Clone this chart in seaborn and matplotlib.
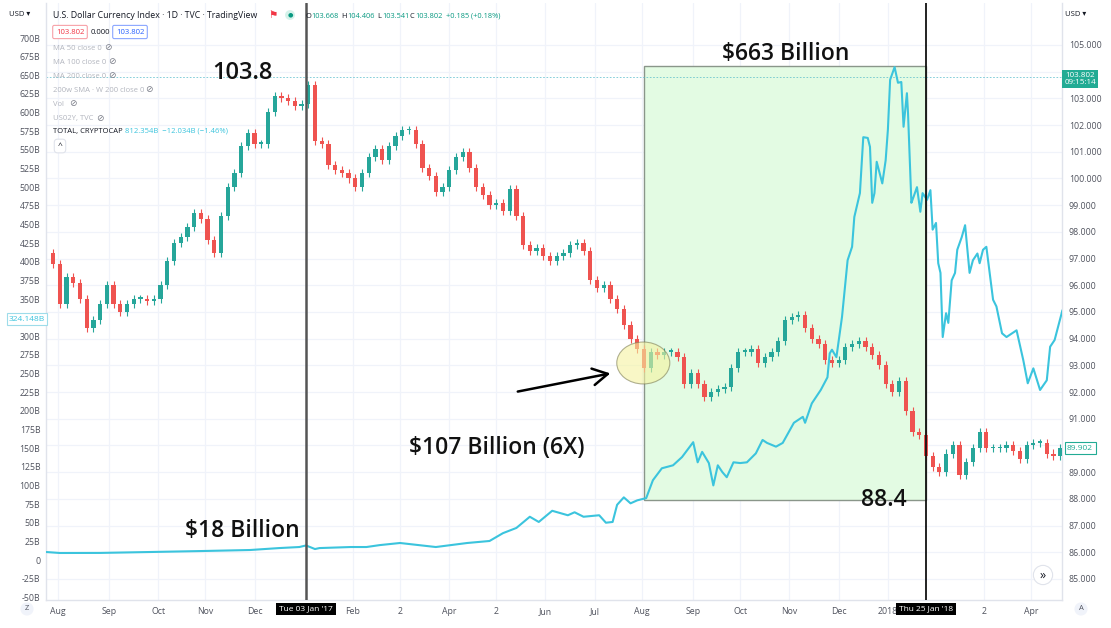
import numpy as np
import pandas as pd
import matplotlib
matplotlib.use("Agg")
import matplotlib.pyplot as plt
import seaborn as sns
from matplotlib.patches import Rectangle, Ellipse

# ---------------- data ----------------
start_date = "2016-07-27"
end_date = "2018-04-19"
candle_days = 3            # trading days represented by one candle
dxy_first_open = 97.2
dxy_close = [
    96.8, 95.3, 96.3, 96.1, 95.5, 94.4, 94.7, 95.3, 96.0, 95.3,
    95.0, 95.3, 95.5, 95.5, 95.4, 95.5, 96.0, 96.9, 97.6, 97.8,
    98.2, 98.7, 98.5, 97.7, 97.2, 98.6, 99.7, 100.2, 101.2, 101.7,
    101.3, 101.3, 102.5, 103.1, 103.0, 102.9, 102.7, 102.8, 103.5, 101.4,
    101.3, 100.5, 100.3, 100.2, 100.0, 99.7, 100.2, 100.8, 101.1, 100.7,
    101.2, 101.6, 101.8, 101.8, 101.3, 100.4, 100.1, 99.5, 99.7, 100.3,
    100.8, 101.0, 100.4, 99.7, 99.4, 99.0, 99.1, 98.8, 99.6, 98.6,
    97.5, 97.3, 97.4, 97.1, 96.9, 97.1, 97.2, 97.5, 97.6, 97.3,
    96.2, 95.9, 96.0, 95.5, 95.1, 94.5, 94.0, 93.6, 92.9, 93.5,
    93.4, 93.5, 93.5, 93.3, 92.3, 92.7, 92.3, 91.8, 92.0, 92.1,
    92.2, 92.9, 93.5, 93.5, 93.6, 93.1, 93.3, 93.5, 93.9, 94.7,
    94.8, 94.9, 94.4, 94.0, 93.8, 93.2, 93.1, 93.2, 93.7, 93.8,
    93.9, 93.7, 93.4, 93.0, 92.3, 92.0, 92.4, 91.3, 90.5, 90.4,
    89.6, 89.2, 89.0, 89.7, 90.0, 88.9, 89.4, 89.9, 90.5, 89.9,
    89.9, 89.9, 90.0, 89.8, 89.5, 90.0, 90.1, 90.1, 89.7, 89.6,
    89.9,
]

# total crypto market cap (billions), x = trading days since start_date
crypto_day = [
    -2, 4, 22, 44, 67, 89, 102, 111, 114, 118,
    120, 134, 141, 147, 156, 172, 186, 196, 202, 208,
    214, 218, 224, 231, 234, 238, 245, 248, 251, 253,
    256, 259, 262, 266, 269, 273, 278, 282, 287, 289,
    291, 294, 296, 298, 300, 302, 305, 308, 311, 315,
    318, 320, 324, 327, 332, 336, 337, 340, 344, 347,
    348, 349, 351, 353.5, 356, 358, 359, 361.5, 363, 365,
    366, 367, 368, 369, 371.5, 373, 374, 375, 377, 378.5,
    380, 381, 382.5, 383, 384.5, 385, 387, 388.5, 389.5, 391.5,
    393, 394, 395.5, 396.5, 397.5, 398.5, 400, 401, 402.5, 404,
    405, 407, 408.5, 410.5, 412, 414, 415, 416.5, 418, 421,
    422.5, 425, 427, 431.5, 434.5, 436.5, 439, 442, 445, 446.5,
    448.5, 452,
]
crypto_bn = [
    10.7, 9.4, 9.5, 10.7, 12, 13.4, 16, 17.4, 19.5, 14.7,
    16, 17.4, 17.4, 20, 22.8, 17.4, 22.8, 25.5, 36, 43,
    58, 51, 66, 60, 64, 58, 60, 50, 51, 74,
    84, 76, 80, 83, 107, 123, 127, 138, 158, 131,
    145, 130, 100, 127, 118, 111, 131, 130, 131, 143,
    161, 157, 152, 157, 184, 192, 184, 210, 228, 245,
    277, 282, 272, 326, 402, 420, 460, 492, 567, 566,
    554, 479, 492, 534, 505, 536, 577, 644, 661, 640,
    641, 581, 626, 599, 479, 483, 500, 467, 492, 483,
    496, 443, 452, 398, 385, 299, 331, 318, 375, 385,
    416, 433, 449, 385, 402, 411, 398, 416, 420, 349,
    340, 304, 299, 308, 268, 237, 257, 228, 241, 286,
    295, 335,
]

left_ticks = list(range(-50, 701, 25))
left_hidden = [325]             # label covered by the last-value box
right_ticks = list(range(85, 106))
right_hidden = [90, 104]        # labels covered by the price boxes
month_dates = ["2016-08-01", "2016-09-01", "2016-10-03", "2016-11-01", "2016-12-01",
               "2017-02-01", "2017-03-02", "2017-04-03", "2017-05-02", "2017-06-01",
               "2017-07-03", "2017-08-01", "2017-09-01", "2017-10-02", "2017-11-01",
               "2017-12-01", "2018-01-02", "2018-03-02", "2018-04-02"]
month_labels = ["Aug", "Sep", "Oct", "Nov", "Dec", "Feb", "2", "Apr", "2", "Jun",
                "Jul", "Aug", "Sep", "Oct", "Nov", "Dec", "2018", "2", "Apr"]
marker_dates = ["2017-01-03", "2018-01-25"]
marker_labels = ["Tue 03 Jan '17", "Thu 25 Jan '18"]
box_dates = ["2017-08-02", "2018-01-25"]
box_dxy = [87.96, 104.2]
last_dxy = 103.802

# ---------------- style ----------------
sns.set_theme(style="white")
plt.rcParams['font.family'] = ['Open Sans', 'DejaVu Sans']

W, H = 1111, 628
fig = plt.figure(figsize=(W / 100, H / 100), dpi=100)
fig.patch.set_facecolor("white")
ax = fig.add_axes([46 / W, 1 - 600 / H, (1062 - 46) / W, 597 / H])
axc = ax.twinx()

bdays = pd.bdate_range(start_date, end_date)


def pos(d):
    return bdays.get_loc(pd.Timestamp(d))


XL = (-2.19, 451.8)
ax.set_xlim(*XL)
ax.set_ylim(84.213, 106.573)
axc.set_ylim(-53.64, 746.95)

ax.set_yticks(right_ticks)
ax.set_yticklabels(["" if v in right_hidden else f"{v:.3f}" for v in right_ticks])
ax.yaxis.tick_right()
ax.set_xticks([pos(d) for d in month_dates])
ax.set_xticklabels(month_labels)
ax.grid(True, color="#f0f3fa", lw=0.9)
ax.tick_params(axis="both", length=0, labelsize=6.3, labelcolor="#50535e")
ax.tick_params(axis="y", pad=5)
ax.tick_params(axis="x", pad=5)

axc.set_yticks(left_ticks)
axc.set_yticklabels(["" if v in left_hidden else ("0" if v == 0 else f"{v}B")
                     for v in left_ticks])
axc.yaxis.tick_left()
axc.tick_params(axis="y", length=0, labelsize=6.3, labelcolor="#50535e", pad=4)
axc.grid(False)

for a in (ax, axc):
    for s in a.spines.values():
        s.set_visible(False)
for side in ("left", "right", "bottom"):
    ax.spines[side].set_visible(True)
    ax.spines[side].set_color("#e0e3eb")
    ax.spines[side].set_linewidth(1.0)

# green range box
b0, b1 = pos(box_dates[0]), pos(box_dates[1])
ax.add_patch(Rectangle((b0, box_dxy[0]), b1 - b0, box_dxy[1] - box_dxy[0],
                       facecolor="#e3fbe3", edgecolor="#8a968a", lw=1.0, zorder=1))

# last price line
ax.axhline(last_dxy, color="#4fb8c8", ls=(0, (2, 2)), lw=0.6, alpha=0.8, zorder=2)

# candles
closes = np.array(dxy_close)
opens = np.r_[dxy_first_open, closes[:-1]]
xc = np.arange(len(closes)) * candle_days + 1
up = closes >= opens
cols = np.where(up, "#26a69a", "#ef5350")
lo = np.minimum(opens, closes)
hi = np.maximum(opens, closes)
ax.vlines(xc, lo - 0.15, hi + 0.15, colors=cols, lw=0.8, zorder=3)
ax.bar(xc, np.maximum(hi - lo, 0.06), bottom=lo, width=1.9, color=cols,
       linewidth=0, zorder=4)

# yellow ellipse + arrow
ax.add_patch(Ellipse((264.7, 93.09), 23.7, 1.57, facecolor="#f5f3a0",
                     edgecolor="#7d7d55", lw=0.8, alpha=0.6, zorder=5))
ax.annotate("", xy=(251.2, 92.72), xytext=(207.4, 92.0),
            arrowprops=dict(arrowstyle="->, head_length=0.9, head_width=0.5",
                            lw=1.8, color="black"), zorder=6)

# crypto line
sns.lineplot(x=crypto_day, y=crypto_bn, ax=axc, color="#3bc4dd", lw=1.5,
             legend=False, zorder=5)
axc.set_xlabel("")
axc.set_ylabel("")
ax.set_xlabel("")
ax.set_ylabel("")

# vertical marker lines
axc.axvline(pos(marker_dates[0]), color="#555555", lw=1.8, zorder=6)
axc.axvline(pos(marker_dates[1]), color="#111111", lw=1.3, zorder=6)

# annotations
tkw = dict(fontsize=16.5, fontweight="semibold", color="#111111", ha="center",
           va="center", zorder=8)
ax.text(85.8, 103.95, "103.8", **{**tkw, "fontsize": 17})
ax.text(328.5, 104.66, "$663 Billion", **tkw)
ax.text(199.3, 89.91, "$107 Billion (6X)", **tkw)
ax.text(85.4, 86.80, "$18 Billion", **tkw)
ax.text(372.2, 87.96, "88.4", **tkw)


# ---------------- TradingView chrome ----------------
def ftext(x, y, s, **kw):
    kw.setdefault("va", "center")
    kw.setdefault("ha", "left")
    return fig.text(x / W, 1 - y / H, s, **kw)


ftext(53, 15, "U.S. Dollar Currency Index · 1D · TVC · TradingView",
      fontsize=6.35, color="#131722")
ftext(268, 15, "⚑", fontsize=7.5, color="#f23645", family=["DejaVu Sans"])
ftext(290, 15, "●", fontsize=4.5, color="#089981", ha="center",
      bbox=dict(boxstyle="circle,pad=0.35", fc="#d5f2ea", ec="none"))
teal = "#089981"
for xx, s, c in [(305, "O", "#131722"), (311, "103.668", teal),
                 (341, "H", "#131722"), (347, "104.406", teal),
                 (377, "L", "#131722"), (382, "103.541", teal),
                 (410, "C", "#131722"), (415, "103.802", teal),
                 (446, "+0.185 (+0.18%)", teal)]:
    ftext(xx, 16, s, fontsize=5.3, color=c)

ftext(70, 32, "103.802", fontsize=5.6, color="#f23645", ha="center",
      bbox=dict(boxstyle="round,pad=0.4,rounding_size=0.2", fc="white", ec="#f7a1a8", lw=0.8))
ftext(100, 32, "0.000", fontsize=5.6, color="#131722", ha="center")
ftext(130, 32, "103.802", fontsize=5.6, color="#2962ff", ha="center",
      bbox=dict(boxstyle="round,pad=0.4,rounding_size=0.2", fc="white", ec="#8aa6ff", lw=0.8))

gray = "#b2b5be"
for yy, s, ex in [(48, "MA 50 close 0", 108), (62, "MA 100 close 0", 112),
                  (76, "MA 200 close 0", 112), (90, "200w SMA · W 200 close 0", 149),
                  (104, "Vol", 73), (118, "US02Y, TVC", 100)]:
    ftext(53, yy, s, fontsize=5.5, color=gray)
    ftext(ex, yy, "⊘", fontsize=6.5, color="#787b86", ha="center", family=["DejaVu Sans"])
ftext(53, 131, "TOTAL, CRYPTOCAP", fontsize=5.5, color="#131722")
ftext(125, 131, "812.354B  −12.034B (−1.46%)", fontsize=5.5, color="#3bc4dd")
ftext(60, 146, "^", fontsize=6, color="#131722", ha="center",
      bbox=dict(boxstyle="round,pad=0.4", fc="white", ec="#e0e3eb", lw=0.8))

ftext(20, 14, "USD ▾", fontsize=5.5, color="#131722", ha="center")
ftext(1076, 14, "USD ▾", fontsize=5.5, color="#131722", ha="center")

ftext(27, 319, "324.148B", fontsize=6, color="#3bc4dd", ha="center",
      bbox=dict(boxstyle="square,pad=0.25", fc="white", ec="#9edcea", lw=0.8))
ftext(1080, 79, "103.802\n09:15:14", fontsize=5.8, color="white", ha="center",
      linespacing=1.15,
      bbox=dict(boxstyle="square,pad=0.25", fc="#22ab94", ec="none"))
ftext(1080, 448, "89.902", fontsize=6, color="#22ab94", ha="center",
      bbox=dict(boxstyle="square,pad=0.3", fc="white", ec="#22ab94", lw=0.8))

for d, lab in zip(marker_dates, marker_labels):
    px = 46 + (pos(d) - XL[0]) / (XL[1] - XL[0]) * (1062 - 46)
    ftext(px, 609, lab, fontsize=6, color="white", ha="center",
          bbox=dict(boxstyle="square,pad=0.35", fc="black", ec="none"))

ftext(27, 609, "Z", fontsize=5.5, color="#50535e", ha="center",
      bbox=dict(boxstyle="circle,pad=0.4", fc="#f0f3fa", ec="none"))
ftext(1081, 609, "A", fontsize=5.5, color="#50535e", ha="center",
      bbox=dict(boxstyle="circle,pad=0.4", fc="#f0f3fa", ec="none"))
ftext(1043, 575, "»", fontsize=9, color="#131722", ha="center",
      bbox=dict(boxstyle="circle,pad=0.25", fc="white", ec="#e0e3eb", lw=0.8))

fig.savefig("out.png", dpi=100, facecolor="white")
